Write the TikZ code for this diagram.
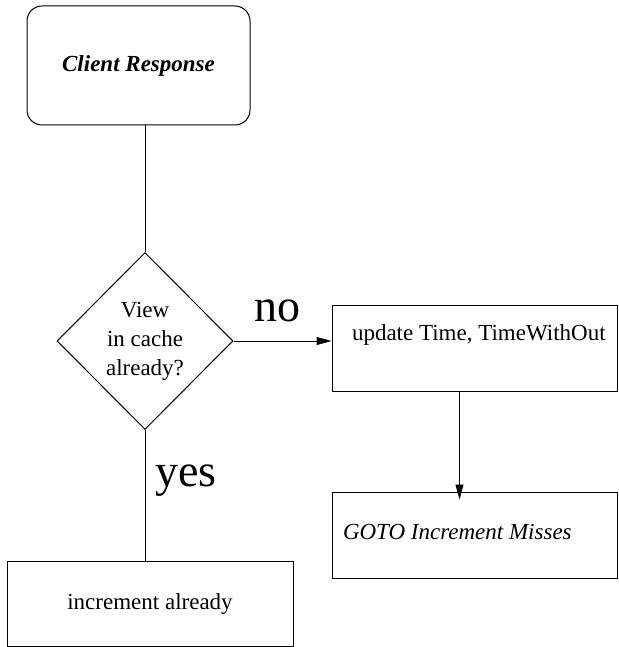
\documentclass[tikz,border=0pt]{standalone}
\usepackage{fontspec}
\setmainfont{Liberation Serif}
\usetikzlibrary{arrows.meta,positioning,shapes.geometric,calc}

\begin{document}
\begin{tikzpicture}[x=1pt, y=-1pt, line width=1pt, every node/.style={font=\fontsize{23}{29}\selectfont}, box/.style={draw, inner sep=0pt, minimum width=286pt, minimum height=86pt}, decision/.style={draw, diamond, aspect=1, inner sep=0pt, minimum width=176pt, minimum height=177pt, align=center}, txt/.style={inner sep=0pt}, big/.style={font=\fontsize{46}{46}\selectfont}, arr/.style={-{Triangle[length=15pt,width=8pt]}}]
\useasboundingbox (0,0) rectangle (618,647);
\node[draw, rounded corners=15pt, minimum width=223pt, minimum height=119pt, font=\fontsize{23}{29}\selectfont\bfseries\itshape] (client) at (138.5,65.5) {Client Response};
\node[decision] (view) at (145,341) {View\\in cache\\already?};
\node[box, minimum width=285pt] (update) at (474.5,348) {};
\node[box, minimum width=285pt] (goto) at (474.5,535) {};
\node[box, minimum height=85pt] (inc) at (150,603.5) {};
\node[txt, anchor=west] (updtext) at ([xshift=20pt,yshift=13pt]update.west) {update Time, TimeWithOut};
\node[txt, anchor=west, font=\fontsize{23}{29}\selectfont\itshape] (gototext) at ([xshift=11pt,yshift=3pt]goto.west) {GOTO Increment Misses};
\node[txt] (inctext) at (inc) {increment already};
\node[big] (no) at (277,311) {no};
\node[big] (yes) at (186,481) {yes};
\draw (client.south -| view.north) -- (view.north);
\draw[arr] (view.east) -- (view.east -| update.west);
\draw[arr, shorten >=-8pt] ([xshift=-15pt]update.south) -- ([xshift=-15pt]update.south |- goto.north);
\draw (view.south) -- (view.south |- inc.north);
\end{tikzpicture}
\end{document}
